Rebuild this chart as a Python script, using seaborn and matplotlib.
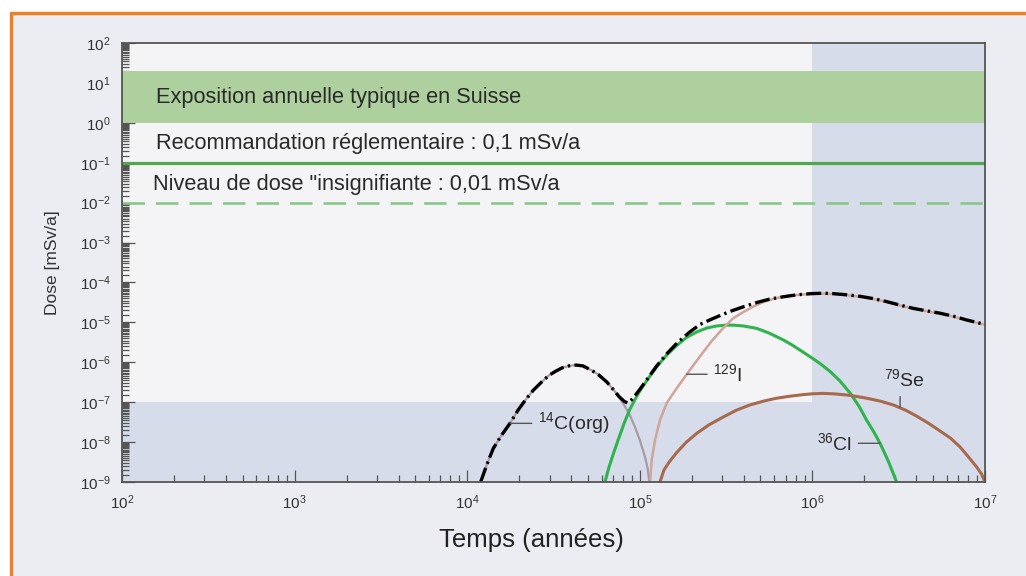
import numpy as np
import matplotlib
matplotlib.use("Agg")
import matplotlib.pyplot as plt
from matplotlib.patches import Rectangle
from matplotlib.lines import Line2D
from matplotlib.ticker import LogLocator, NullFormatter
import seaborn as sns

sns.set_theme(style="white")
plt.rcParams["font.family"] = ["Liberation Sans", "DejaVu Sans"]
plt.rcParams["mathtext.fontset"] = "custom"
plt.rcParams["mathtext.rm"] = "Liberation Sans"
plt.rcParams["mathtext.it"] = "Liberation Sans:italic"
plt.rcParams["mathtext.bf"] = "Liberation Sans:bold"

# ---- dose curves, stored as decimal exponents: time [years], dose [mSv/a] ----
c14_log_t = [4.078, 4.115, 4.151, 4.20, 4.248, 4.296, 4.34, 4.383, 4.43, 4.47,
             4.51, 4.55, 4.59, 4.63, 4.67, 4.72, 4.76, 4.808, 4.85, 4.899,
             4.94, 4.972, 5.00, 5.03, 5.045, 5.055]
c14_log_d = [-9.0, -8.55, -8.16, -7.82, -7.53, -7.19, -6.93, -6.70, -6.50, -6.34,
             -6.23, -6.14, -6.09, -6.07, -6.09, -6.20, -6.31, -6.49, -6.70, -7.00,
             -7.30, -7.62, -7.95, -8.37, -8.65, -9.0]

cl36_log_t = [4.798, 4.82, 4.85, 4.88, 4.91, 4.94, 4.97, 5.00, 5.05, 5.10,
              5.16, 5.214, 5.27, 5.33, 5.39, 5.446, 5.50, 5.542, 5.60, 5.677,
              5.75, 5.831, 5.88, 5.93, 5.99, 6.044, 6.10, 6.16, 6.22, 6.27,
              6.314, 6.355, 6.392, 6.44, 6.488]
cl36_log_d = [-9.0, -8.65, -8.25, -7.88, -7.52, -7.20, -6.95, -6.72, -6.40, -6.10,
              -5.80, -5.58, -5.38, -5.24, -5.14, -5.09, -5.07, -5.07, -5.09, -5.15,
              -5.27, -5.44, -5.56, -5.70, -5.87, -6.03, -6.22, -6.47, -6.78, -7.10,
              -7.45, -7.74, -8.03, -8.48, -9.0]

i129_log_t = [5.059, 5.069, 5.088, 5.117, 5.156, 5.214, 5.272, 5.349, 5.418, 5.484,
              5.54, 5.60, 5.66, 5.716, 5.79, 5.87, 5.95, 6.06,
              6.12, 6.20, 6.28, 6.36, 6.43, 6.51, 6.585, 6.66, 6.739, 6.82,
              6.894, 6.95, 7.0]
i129_log_d = [-9.0, -8.45, -7.95, -7.45, -7.02, -6.65, -6.30, -5.85, -5.46, -5.14,
              -4.90, -4.74, -4.60, -4.49, -4.39, -4.33, -4.30, -4.28,
              -4.29, -4.32, -4.36, -4.42, -4.49, -4.58, -4.66, -4.72, -4.78, -4.86,
              -4.95, -5.01, -5.06]

se79_log_t = [5.117, 5.14, 5.17, 5.214, 5.27, 5.33, 5.40, 5.484, 5.56, 5.638,
              5.72, 5.793, 5.87, 5.947, 6.00, 6.06, 6.12, 6.20, 6.26, 6.314,
              6.39, 6.469, 6.54, 6.604, 6.67, 6.739, 6.80, 6.855, 6.90, 6.951,
              6.98, 7.0]
se79_log_d = [-9.0, -8.70, -8.50, -8.26, -8.00, -7.78, -7.57, -7.37, -7.20, -7.07,
              -6.97, -6.90, -6.85, -6.81, -6.79, -6.78, -6.79, -6.82, -6.86, -6.90,
              -6.97, -7.07, -7.20, -7.35, -7.52, -7.72, -7.90, -8.12, -8.35, -8.62,
              -8.80, -9.0]

total_log_t = [4.078, 4.115, 4.151, 4.20, 4.248, 4.296, 4.34, 4.383, 4.43, 4.47,
               4.51, 4.55, 4.59, 4.63, 4.67, 4.72, 4.76, 4.808, 4.85, 4.88,
               4.91, 4.93, 4.95, 4.97, 5.00, 5.05, 5.10, 5.16, 5.22, 5.29,
               5.35, 5.41, 5.47, 5.52, 5.60, 5.68, 5.75, 5.83, 5.91, 5.99,
               6.06, 6.12, 6.20, 6.28, 6.36, 6.43, 6.51, 6.585, 6.66, 6.739,
               6.82, 6.894, 6.95, 7.0]
total_log_d = [-9.0, -8.55, -8.16, -7.82, -7.53, -7.19, -6.93, -6.70, -6.50, -6.34,
               -6.23, -6.14, -6.09, -6.07, -6.09, -6.20, -6.31, -6.49, -6.70, -6.86,
               -6.98, -7.02, -6.95, -6.85, -6.68, -6.38, -6.08, -5.77, -5.50, -5.24,
               -5.05, -4.93, -4.82, -4.73, -4.61, -4.50, -4.42, -4.36, -4.31, -4.28,
               -4.27, -4.28, -4.31, -4.35, -4.41, -4.48, -4.57, -4.65, -4.71, -4.77,
               -4.85, -4.94, -5.00, -5.05]

# reference levels (mSv/a)
swiss_band = (1.0, 20.0)
regulatory_limit = 0.1
negligible_level = 0.01
shaded_time = (1e6, 1e7)
shaded_dose = (1e-9, 1e-7)

band_labels = ["Exposition annuelle typique en Suisse",
               "Recommandation réglementaire : 0,1 mSv/a",
               "Niveau de dose \"insignifiante : 0,01 mSv/a"]


def pow10(values):
    return 10.0 ** np.asarray(values, dtype=float)


# ---- figure ----
fig = plt.figure(figsize=(10.26, 5.76), dpi=100, facecolor="white")
W, H = 1026, 576
fig.patches.append(Rectangle((11 / W, 0), 1 - 11 / W, 1 - 13 / H,
                             transform=fig.transFigure, facecolor="#ecedf2",
                             edgecolor="none", zorder=-10))
orange = "#f47d22"
fig.lines.append(Line2D([11 / W, 11 / W], [0, 1 - 13 / H], transform=fig.transFigure,
                        color=orange, lw=2.4, zorder=-5))
fig.lines.append(Line2D([11 / W, 1], [1 - 13 / H, 1 - 13 / H], transform=fig.transFigure,
                        color=orange, lw=2.4, zorder=-5))

ax = fig.add_axes([122 / W, 1 - 482 / H, (985 - 122) / W, (482 - 43) / H])
ax.set_facecolor("#f4f4f6")
ax.set_xscale("log")
ax.set_yscale("log")
ax.set_xlim(1e2, 1e7)
ax.set_ylim(1e-9, 1e2)

blue = "#d6dcea"
ax.axvspan(*shaded_time, color=blue, lw=0, zorder=0.5)
ax.axhspan(*shaded_dose, color=blue, lw=0, zorder=0.5)
ax.axhspan(*swiss_band, color="#aed09e", lw=0, zorder=0.6)
ax.axhline(regulatory_limit, color="#4fa84f", lw=2.3, zorder=1)
ax.axhline(negligible_level, color="#88c888", lw=1.9,
           linestyle=(0, (8.5, 4.2)), zorder=1)

txt_kw = dict(color="#2a2a2a", fontsize=15.7, va="center", ha="left")
ax.text(157, 4.4, band_labels[0], **txt_kw)
ax.text(157, 0.31, band_labels[1], **txt_kw)
ax.text(152, 0.029, band_labels[2], **txt_kw)

# nuclide curves and their sum
curve_kw = dict(ax=ax, estimator=None, sort=False, legend=False)
sns.lineplot(x=pow10(c14_log_t), y=pow10(c14_log_d), color="#a89aa6", lw=1.6,
             zorder=2, **curve_kw)
sns.lineplot(x=pow10(cl36_log_t), y=pow10(cl36_log_d), color="#2fb34c", lw=2.2,
             zorder=2, **curve_kw)
sns.lineplot(x=pow10(i129_log_t), y=pow10(i129_log_d), color="#cfa49b", lw=1.8,
             zorder=2, **curve_kw)
sns.lineplot(x=pow10(se79_log_t), y=pow10(se79_log_d), color="#a86a4c", lw=2.2,
             zorder=2, **curve_kw)
sns.lineplot(x=pow10(total_log_t), y=pow10(total_log_d), color="black", lw=2.4,
             linestyle=(0, (4.5, 1.3, 0.7, 1.3)), zorder=3, **curve_kw)

# curve labels with leader lines
def leader(relpos):
    return dict(arrowstyle="-", color="#555555", lw=1.0, shrinkA=2, shrinkB=0,
                relpos=relpos)

lab_kw = dict(fontsize=14, color="#2a2a2a", va="center", textcoords="offset points")
ax.annotate(r"$^{14}$C(org)", xy=(10 ** 4.248, 10 ** -7.53), xytext=(20, 0),
            ha="left", arrowprops=leader((0, 0.5)), **lab_kw)
ax.annotate(r"$^{129}$I", xy=(10 ** 5.272, 10 ** -6.30), xytext=(19, 0),
            ha="left", arrowprops=leader((0, 0.5)), **lab_kw)
ax.annotate(r"$^{36}$Cl", xy=(10 ** 6.392, 10 ** -8.03), xytext=(-20, 0),
            ha="right", arrowprops=leader((1, 0.5)), **lab_kw)
ax.annotate(r"$^{79}$Se", xy=(10 ** 6.508, 10 ** -7.13), xytext=(3, 20),
            ha="center", arrowprops=leader((0.4, 0.0)), **lab_kw)

# axes styling
for s in ax.spines.values():
    s.set_visible(True)
    s.set_color("#555555")
    s.set_linewidth(1.3)
    s.set_zorder(4)

ax.xaxis.set_major_locator(LogLocator(base=10, numticks=10))
ax.xaxis.set_minor_locator(LogLocator(base=10, subs=np.arange(2, 10), numticks=20))
ax.yaxis.set_major_locator(LogLocator(base=10, numticks=20))
ax.yaxis.set_minor_locator(LogLocator(base=10, subs=np.arange(1.5, 10, 0.5), numticks=40))
ax.xaxis.set_minor_formatter(NullFormatter())
ax.yaxis.set_minor_formatter(NullFormatter())
ax.tick_params(which="both", direction="in", color="#555555", width=0.9,
               labelsize=11, labelcolor="#333333")
ax.tick_params(which="major", length=9, pad=8)
ax.tick_params(which="minor", length=5)
ax.tick_params(axis="y", which="both", left=True, right=False)
ax.tick_params(axis="x", which="both", bottom=True, top=False)

ax.set_xlabel("Temps (années)", fontsize=18.5, color="#222222")
ax.xaxis.set_label_coords(0.475, -0.105)
ax.set_ylabel("Dose [mSv/a]", fontsize=12.5, color="#333333")
ax.yaxis.set_label_coords(-0.072, 0.5)

fig.savefig("out.png", dpi=100)
